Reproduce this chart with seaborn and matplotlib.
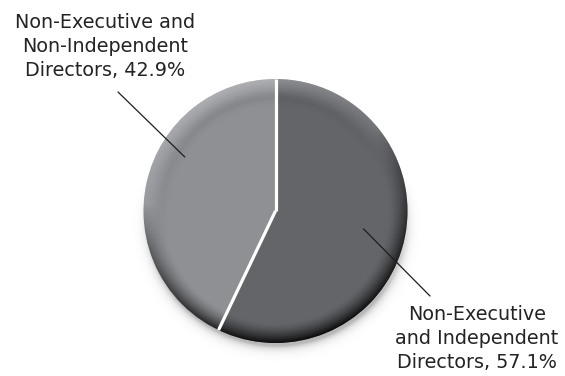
import numpy as np
import matplotlib
matplotlib.use("Agg")
import matplotlib.pyplot as plt
import seaborn as sns
from matplotlib.patches import Circle

# Board composition
categories = ["Non-Executive\nand Independent\nDirectors", "Non-Executive and\nNon-Independent\nDirectors"]
shares = [57.1, 42.9]
slice_colors = ["#646569", "#8f9094"]

sns.set_theme(style="white")
plt.rcParams["font.family"] = ["DejaVu Sans"]

W, H = 565, 376
fig = plt.figure(figsize=(W / 100, H / 100), dpi=100)
ax = fig.add_axes([0, 0, 1, 1])

center = (275.5, 165.0)
radius = 132.0

palette = sns.color_palette(slice_colors)
wedges, _ = ax.pie(shares, colors=palette, startangle=90, counterclock=False,
                   center=center, radius=radius,
                   wedgeprops=dict(linewidth=0, zorder=2))

cx, cy = wedges[0].center
R = wedges[0].r

# soft drop shadow under the disc
gx = np.linspace(cx - R - 30, cx + R + 30, 400)
gy = np.linspace(cy - R - 30, cy + R + 30, 400)
X, Y = np.meshgrid(gx, gy)
d_sh = np.hypot(X - cx - 1.0, Y - (cy - 3.0)) - R
sh_alpha = np.where(d_sh > 0, 0.28 * np.exp(-d_sh / 4.0), 0.28)
dirv = np.clip(-(Y - cy) / R + 0.3, 0, 1)
sh_alpha = sh_alpha * dirv
shadow = np.zeros(X.shape + (4,))
shadow[..., 3] = sh_alpha
ax.imshow(shadow, extent=(gx[0], gx[-1], gy[0], gy[-1]), origin="lower",
          zorder=1, interpolation="bilinear")

# bevel shading on the disc: darker rim at the bottom-right, lighter at the top-left
U = (X - cx) / R
V = (Y - cy) / R
r = np.hypot(U, V) + 1e-9
L = np.array([-0.3, 0.95])
L = L / np.linalg.norm(L)
cosang = (U * L[0] + V * L[1]) / r
edge = np.clip((r - 0.85) / 0.15, 0, 1)
dark_a = 0.9 * edge ** 1.5 * np.clip((0.35 - cosang) / 1.35, 0, 1) ** 0.7
inner = np.exp(-((r - 0.88) / 0.05) ** 2) * np.clip(cosang, 0, 1) * 0.08
dark_a = np.clip(dark_a + inner, 0, 1)
light_a = 0.28 * edge * np.clip(cosang, 0, 1)

clip_circle = Circle((cx, cy), R, transform=ax.transData)
dark = np.zeros(X.shape + (4,))
dark[..., 3] = dark_a
im1 = ax.imshow(dark, extent=(gx[0], gx[-1], gy[0], gy[-1]), origin="lower",
                zorder=3, interpolation="bilinear")
im1.set_clip_path(clip_circle)
light = np.ones(X.shape + (4,))
light[..., 3] = light_a
clip_circle2 = Circle((cx, cy), R, transform=ax.transData)
im2 = ax.imshow(light, extent=(gx[0], gx[-1], gy[0], gy[-1]), origin="lower",
                zorder=3, interpolation="bilinear")
im2.set_clip_path(clip_circle2)

# white separators along the radial edges of each slice
for w in wedges:
    t = np.deg2rad(w.theta2)
    ax.plot([cx, cx + R * np.cos(t)], [cy, cy + R * np.sin(t)],
            color="white", lw=2.3, solid_capstyle="butt", zorder=4)

# labels with leader lines
label_pos = [(477, 71.5), (105, 363.5)]
line_start = [(430, 80), (118, 284)]
anchor_offset = [1.3, -18.0]
anchor_frac = [0.68, 0.80]
for w, cat, val, tp, ls, off, fr in zip(wedges, categories, shares, label_pos,
                                         line_start, anchor_offset, anchor_frac):
    ang = np.deg2rad((w.theta1 + w.theta2) / 2 + off)
    ax_pt = (cx + fr * R * np.cos(ang), cy + fr * R * np.sin(ang))
    ax.annotate("", xy=ax_pt, xytext=ls,
                arrowprops=dict(arrowstyle="-", color="#1e1e1e", lw=0.9,
                                shrinkA=0, shrinkB=0), zorder=5)
    ax.text(tp[0], tp[1], f"{cat}, {val:.1f}%", ha="center", va="top",
            fontsize=13.8, color="#232323", linespacing=1.36, zorder=6)

ax.set_xlim(0, W)
ax.set_ylim(0, H)
ax.set_aspect("equal")
ax.axis("off")

fig.savefig("out.png", dpi=100)
